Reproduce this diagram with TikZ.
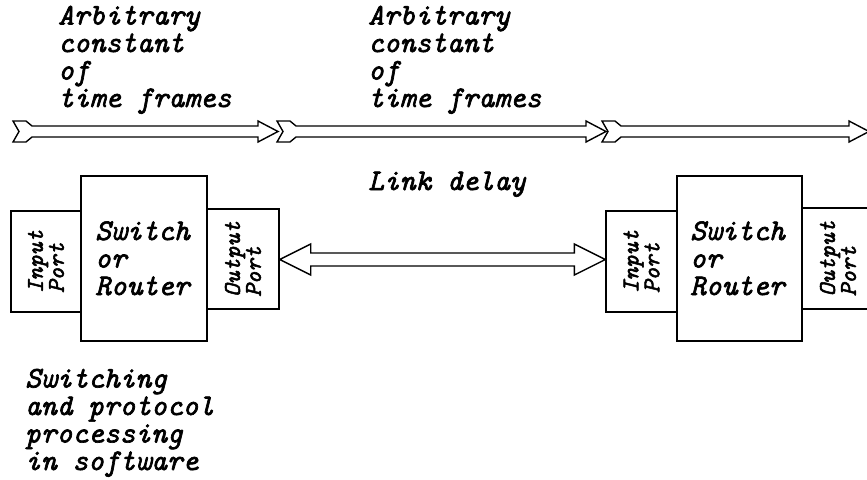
\documentclass[tikz,border=0pt]{standalone}
\usepackage{fontspec}
\usetikzlibrary{calc}

% emboldened italic typewriter face for all labels
\newfontfamily\lblfont[FakeBold=2.2]{lmmono10-italic.otf}

\tikzset{
  lbl/.style={font=\fontsize{30}{27.5}\selectfont\lblfont,
    align=left, inner sep=0pt, anchor=base west},
  portlbl/.style={font=\fontsize{24}{21}\selectfont\lblfont,
    align=left, rotate=90, inner sep=0pt},
  box/.style={draw, line width=1.4pt, inner sep=0pt},
  frame/.style={draw, line width=1.4pt, fill=white, line join=miter},
}

% time-frame arrow with a notched tail: tail x, tip x
\newcommand\framearrow[2]{%
  \draw[frame] (#1,121) -- (#1+13,121) -- (#1+19,126) -- (#2-20,126)
    -- (#2-20,121) -- (#2,131.5) -- (#2-20,142) -- (#2-20,137)
    -- (#1+19,137) -- (#1+13,142) -- (#1,142) -- (#1+6,131.5) -- cycle;}

\begin{document}
\begin{tikzpicture}[x=1pt, y=-1pt]
\useasboundingbox (0,0) rectangle (867,479);

% labels above the time line (anchored at the baseline of the last line)
\node[lbl] (frames1) at (58,107) {Arbitrary\\constant\\of\\time frames};
\node[lbl] (frames2) at (368,107) {Arbitrary\\constant\\of\\time frames};

% time line
\framearrow{13}{278}
\framearrow{277}{606}
\framearrow{602}{869}

\node[lbl] (delay) at (368,190) {Link delay};

% left switch with its ports
\node[box, minimum width=126pt, minimum height=165pt] (sw1) at (144,258.5) {};
\node[box, minimum width=70pt, minimum height=101pt] (in1) at (46,261.5) {};
\node[box, minimum width=72pt, minimum height=100pt] (out1) at (243,259) {};
\node[lbl] (sw1t) at (95,295) {Switch\\or\\Router};
\node[portlbl] (in1t) at (in1) {Input\\Port};
\node[portlbl] (out1t) at (out1) {Output\\Port};

% right switch with its ports
\node[box, minimum width=125pt, minimum height=165pt] (sw2) at (739.5,258.5) {};
\node[box, minimum width=71pt, minimum height=101pt] (in2) at (641.5,261.5) {};
\node[box, minimum width=72pt, minimum height=101pt] (out2) at (838,258.5) {};
\node[lbl] (sw2t) at (690,295) {Switch\\or\\Router};
\node[portlbl] (in2t) at (in2) {Input\\Port};
\node[portlbl] (out2t) at (out2) {Output\\Port};

% link between the two switches
\coordinate (lvl) at (0,259.5);
\coordinate (la) at (out1.east |- lvl);
\coordinate (lb) at (in2.west |- lvl);
\draw[frame] (la) -- ++(31,-15.5) -- ++(0,9) -- ($(lb)+(-31,-6.5)$)
  -- ++(0,-9) -- (lb) -- ++(-31,15.5) -- ++(0,-9)
  -- ($(la)+(31,6.5)$) -- ++(0,9) -- cycle;

% note below
\node[lbl] (note) at (25,470) {Switching\\and protocol\\processing\\in software};
\end{tikzpicture}
\end{document}
